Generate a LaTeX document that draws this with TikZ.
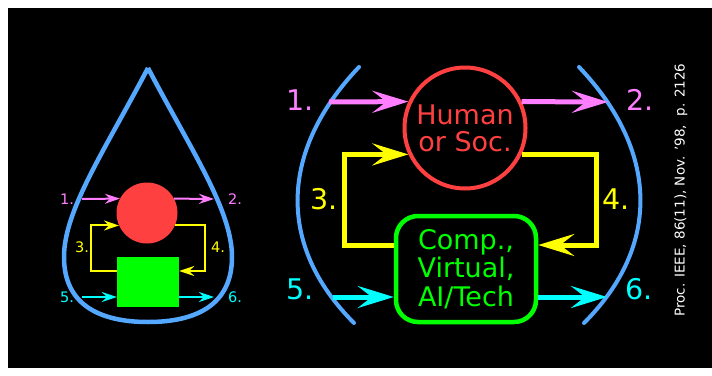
\documentclass[tikz,border=0pt]{standalone}
\usepackage{fontspec}
\setmainfont{DejaVu Sans}
\usetikzlibrary{arrows.meta}
\definecolor{dropblue}{RGB}{85,168,255}
\definecolor{pinkc}{RGB}{255,125,255}
\definecolor{humred}{RGB}{255,64,64}
\definecolor{compgreen}{RGB}{0,255,0}
\definecolor{cyanc}{RGB}{0,255,255}
\definecolor{yellowc}{RGB}{255,255,0}
\tikzset{
  bigarrow/.style={line width=5pt,-{Stealth[length=36pt,width=22pt,inset=14pt]}},
  smallarrow/.style={line width=2pt,-{Stealth[length=15pt,width=10pt,inset=5pt]}},
  biglabel/.style={font=\fontsize{28.5}{30}\selectfont,inner sep=0pt},
  smalllabel/.style={font=\fontsize{14.5}{16}\selectfont,inner sep=0pt},
}

\begin{document}
\begin{tikzpicture}[x=1pt,y=-1pt]
  \useasboundingbox (0,0) rectangle (712,375);
  \fill[white] (0,0) rectangle (712,375);
  \fill[black] (8,8) rectangle (712,368);
  % small drop
  \draw[dropblue,line width=4.5pt,line join=round]
    (148,68) .. controls (105,150) and (64,210) .. (64,257)
    .. controls (64,305) and (100,322) .. (148,322)
    .. controls (196,322) and (232,305) .. (232,257)
    .. controls (232,210) and (191,150) .. (148,68);
  \node[circle,fill=humred,minimum size=61pt,inner sep=0pt] (hs) at (147,213) {};
  \node[rectangle,fill=compgreen,minimum width=62pt,minimum height=50pt,inner sep=0pt] (cs) at (148,282) {};
  \coordinate (m1s) at (82,199);
  \coordinate (m2s) at (214,199);
  \coordinate (y3s) at (91,271);
  \coordinate (y4s) at (205,271);
  \coordinate (c5s) at (82,297);
  \coordinate (c6s) at (214,297);
  \draw[smallarrow,pinkc] (m1s) -- (hs.152);
  \draw[smallarrow,pinkc] (hs.28) -- (m2s);
  \draw[smallarrow,yellowc] (cs.west |- y3s) -- (y3s) |- (hs.204);
  \draw[smallarrow,yellowc] (hs.-24) -| (y4s) -- (cs.east |- y4s);
  \draw[smallarrow,cyanc] (c5s) -- (cs.west |- c5s);
  \draw[smallarrow,cyanc] (cs.east |- c6s) -- (c6s);
  \node[smalllabel,text=pinkc] (l1s) at (67,199) {1.};
  \node[smalllabel,text=pinkc] (l2s) at (235,199) {2.};
  \node[smalllabel,text=yellowc] (l3s) at (82,247) {3.};
  \node[smalllabel,text=yellowc] (l4s) at (218,247) {4.};
  \node[smalllabel,text=cyanc] (l5s) at (67,297) {5.};
  \node[smalllabel,text=cyanc] (l6s) at (235,297) {6.};
  % big diagram
  \draw[dropblue,line width=4pt,line cap=round]
    (359,67) .. controls (280,150) and (276,245) .. (354,323);
  \draw[dropblue,line width=4pt,line cap=round]
    (579,67) .. controls (658,150) and (662,245) .. (584,323);
  \node[circle,draw=humred,line width=4pt,minimum size=121pt,inner sep=0pt,
    text=humred,align=center,font=\fontsize{27}{27}\selectfont]
    (human) at (465,128) {Human\\or Soc.};
  \node[rectangle,rounded corners=22pt,draw=compgreen,line width=4.5pt,
    minimum width=140pt,minimum height=106pt,inner sep=0pt,
    text=compgreen,align=center,font=\fontsize{27}{28.5}\selectfont]
    (comp) at (466,269) {Comp.,\\Virtual,\\AI/Tech};
  \coordinate (m1) at (329,102);
  \coordinate (m2) at (608,102);
  \coordinate (y3) at (344,245);
  \coordinate (y4) at (596,245);
  \coordinate (c5) at (333,297);
  \coordinate (c6) at (607,297);
  \draw[bigarrow,pinkc] (m1) -- (human.155);
  \draw[bigarrow,pinkc] (human.25) -- (m2);
  \draw[bigarrow,yellowc] (comp.west |- y3) -- (y3) |- (human.205);
  \draw[bigarrow,yellowc] (human.-25) -| (y4) -- (comp.east |- y4);
  \draw[bigarrow,cyanc] (c5) -- (comp.west |- c5);
  \draw[bigarrow,cyanc] (comp.east |- c6) -- (c6);
  \node[biglabel,text=pinkc] (l1) at (300,100) {1.};
  \node[biglabel,text=pinkc] (l2) at (640,100) {2.};
  \node[biglabel,text=yellowc] (l3) at (324,199) {3.};
  \node[biglabel,text=yellowc] (l4) at (616,199) {4.};
  \node[biglabel,text=cyanc] (l5) at (300,289) {5.};
  \node[biglabel,text=cyanc] (l6) at (639,289) {6.};
  \node[rotate=90,text=white,inner sep=0pt,font=\fontsize{13.5}{16}\selectfont]
    (cite) at (681,190) {Proc. IEEE, 86(11), Nov. '98,\ \ p. 2126};
\end{tikzpicture}
\end{document}
